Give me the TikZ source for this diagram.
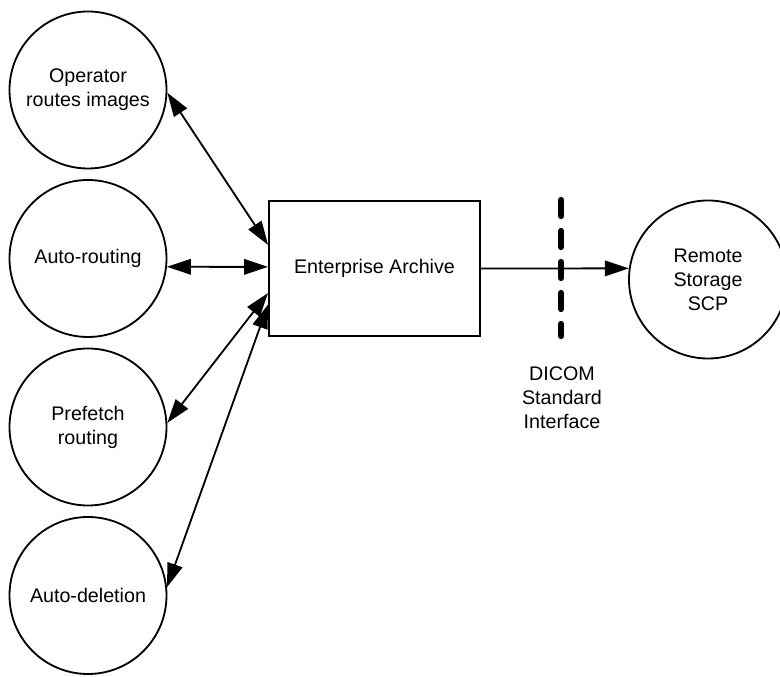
\documentclass[tikz,border=0pt]{standalone}
\usepackage{fontspec}
\setmainfont{Liberation Sans}
\usetikzlibrary{arrows.meta}

\begin{document}
\begin{tikzpicture}[
    txt/.style={align=center, font=\fontsize{14}{17}\selectfont},
    task/.style={txt, draw, circle, line width=1.3pt, minimum size=3.925cm, inner sep=0pt},
    link/.style={line width=1.3pt, -{Triangle[length=17pt,width=11pt]}},
    twoway/.style={link, {Triangle[length=17pt,width=11pt]}-{Triangle[length=17pt,width=11pt]}}
]
    \useasboundingbox (0,0) rectangle (19.5,-16.925);

    % Routing tasks (left column)
    \node[task] (operator) at (2.2, -2.25) {Operator\\routes images};
    \node[task] (autoroute) at (2.2, -6.4625) {Auto-routing};
    \node[task] (prefetch) at (2.2, -10.675) {Prefetch\\routing};
    \node[task] (autodelete) at (2.2, -14.8875) {Auto-deletion};

    % Archive
    \node[txt, draw, line width=1.3pt, minimum width=5.275cm, minimum height=3.375cm] (archive) at (9.3625, -6.7125) {Enterprise Archive};

    % Remote storage
    \node[task, minimum size=3.95cm] (remote) at (17.7, -6.9875) {Remote\\Storage\\SCP};

    % Arrows between tasks and archive
    \draw[twoway] (operator.-2) -- ([yshift=0.5875cm]archive.west);
    \draw[twoway] (autoroute.-6) -- ([yshift=0.04cm]archive.west);
    \draw[twoway] (prefetch.3) -- ([yshift=-0.6125cm]archive.west);
    \draw[twoway] (autodelete.6) -- ([yshift=-0.9cm]archive.west);

    % Archive to remote storage
    \draw[link] (archive.east) -- (remote.172);

    % DICOM interface boundary
    \coordinate (ifacetop) at (14.025, -5.0);
    \coordinate (ifacebot) at (14.025, -8.4);
    \draw[line width=4.5pt, line cap=round, dash pattern=on 0.4cm off 0.375cm] (ifacetop) -- (ifacebot);
    \node[txt] (iface) at (14.05, -9.94) {DICOM\\Standard\\Interface};
\end{tikzpicture}
\end{document}
